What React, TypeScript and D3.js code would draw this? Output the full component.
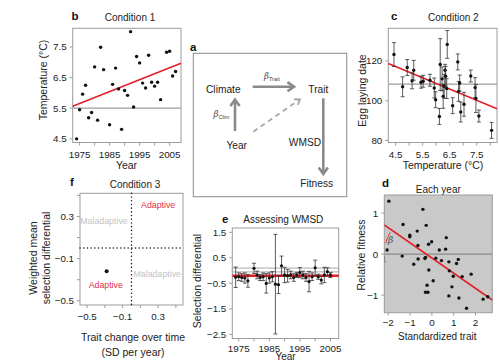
import * as d3 from "d3";

const FONT = "'Liberation Sans', Arial, Helvetica, sans-serif";
const RED = "#e3202a";
const GRID = "#9c9c9c";
const INK = "#222";
const MINUS = "\u2212";

// b: spring temperature per year
const tempYears = [1974, 1975, 1976, 1977, 1978, 1979, 1980, 1981, 1982, 1983, 1985, 1986, 1987, 1988, 1989, 1990,
  1991, 1992, 1993, 1994, 1995, 1996, 1997, 1998, 1999, 2000, 2001, 2002, 2004, 2005, 2006, 2007];
const tempValues = [4.5, 5.45, 5.96, 6.25, 5.19, 5.36, 6.85, 5.11, 7.49, 6.76, 4.96, 6.28, 6.81, 6.13, 4.81, 6.08,
  5.92, 8.0, 5.54, 7.19, 6.98, 6.32, 6.16, 7.23, 6.35, 6.22, 6.35, 5.78, 7.33, 7.36, 6.55, 6.7];
const tempSlope = 0.039;
const tempAt1990 = 6.235;
const tempReference = 5.5;
const tempTicks = [4.5, 5.5, 6.5, 7.5];
const yearTicks = [1975, 1980, 1985, 1990, 1995, 2000, 2005];
const yearLabels = [1975, 1985, 1995, 2005];

// c: egg laying date against temperature
const eggTemps = [4.44, 4.76, 4.93, 5.11, 5.17, 5.44, 5.52, 5.77, 5.93, 5.98, 6.12, 6.15, 6.22, 6.26, 6.3, 6.33,
  6.35, 6.39, 6.41, 6.61, 6.8, 6.83, 6.87, 6.91, 7.03, 7.28, 7.44, 7.47, 7.58, 8.05];
const eggDates = [123.2, 107, 116.7, 110, 115.3, 109.3, 109.8, 110.3, 106.4, 100.5, 92.1, 118.2, 111, 102.2, 107.3,
  115.3, 112.3, 106.1, 128.3, 97.5, 119.5, 104.7, 108.9, 94.3, 98.2, 112.4, 106.6, 101.1, 92.3, 85.1];
const eggErrors = [6, 5, 4, 4, 5, 3, 3, 3, 5, 4, 4, 13, 6, 6, 6, 3, 5, 5, 7, 4, 4, 5, 4, 5, 6, 3, 5, 7, 3, 4];
const eggMean = 108.3;
const eggSlope = -5.65;
const eggIntercept = 142.6;
const eggXTicks = [4.5, 5, 5.5, 6, 6.5, 7, 7.5, 8];
const eggXLabels = [4.5, 5.5, 6.5, 7.5];
const eggYTicks = [80, 100, 120];

// d: relative fitness against standardized trait, one year
const dTrait = [-1.97, -2.05, -1.32, -1.36, -1.01, -1.01, -0.67, -0.64, -0.83, -0.63, -0.41, -0.26, -0.29, -0.32,
  -0.15, -0.01, -0.14, -0.22, -0.29, -0.18, 0.06, 0.18, 0.34, 0.44, 0.63, 0.66, 0.78, 0.8, 0.92, 0.98, 0.78, 1.13,
  1.21, 1.24, 1.39, 1.59, 1.8, 2.35, 2.56];
const dFitness = [1.29, 0.1, 0.72, -0.05, 0.46, 0.42, 0.56, 0.21, -0.25, -0.12, 1.09, 0.7, -0.08, -0.11, 0.24, 0.3,
  -0.39, -0.76, -0.93, -0.93, -0.65, -0.1, 0.1, -0.16, 0.12, 0.4, -0.19, -0.41, -0.8, -0.54, -1.02, -0.23, -0.13,
  -1.07, -0.55, -1.32, -0.49, -1.1, -1.04];
const fitSlope = -0.37;
const fitIntercept = -0.096;
const dXTicks = [-2, -1, 0, 1, 2];
const dYTicks = [-1, 0, 1];

// e: selection differential per year
const eYears = [1974, 1975, 1976, 1977, 1978, 1980, 1981, 1982, 1983, 1984, 1985, 1986, 1987, 1988, 1989, 1990,
  1991, 1992, 1993, 1994, 1995, 1996, 1997, 1998, 1999, 2000, 2001, 2002, 2003, 2004, 2005];
const eValues = [-0.26, -0.24, -0.27, -0.29, -0.4, 0.09, -0.17, -0.27, -0.24, -0.5, -0.29, -0.24, -0.53, -0.55, 0.19,
  -0.17, -0.2, -0.17, -0.27, -0.17, -0.08, -0.17, -0.27, -0.43, -0.24, 0.11, -0.24, -0.37, -0.17, -0.04, -0.17];
const eErrors = [0.4, 0.15, 0.15, 0.2, 0.25, 0.2, 0.15, 0.12, 0.15, 0.38, 0.2, 0.2, 1.95, 0.35, 0.38, 0.3, 0.25,
  0.15, 0.15, 0.1, 0.2, 0.15, 0.15, 0.4, 0.15, 0.3, 0.1, 0.15, 0.3, 0.15, 0.1];
const eMean = -0.2;
const eBand = [-0.05, 0.1];
const eYTicks = [1.5, 0.5, -0.5, -1.5, -2.5];

// f: trait change vs weighted mean selection differential
const fTicks = [-0.5, -0.3, -0.1, 0.1, 0.3, 0.5];
const fXLabels = [-0.5, -0.1, 0.3];
const fYLabels = [0.3, -0.1, -0.5];
const fPoint = { change: -0.28, wmsd: -0.22 };
const fQuadrants = [
  { text: "Adaptive", change: 0.3, wmsd: 0.41, adaptive: true },
  { text: "Maladaptive", change: -0.31, wmsd: 0.26, adaptive: false },
  { text: "Maladaptive", change: 0.29, wmsd: -0.24, adaptive: false },
  { text: "Adaptive", change: -0.29, wmsd: -0.35, adaptive: true },
];

type Lin = d3.ScaleLinear<number, number>;

const num = (v: number, digits: number) => (v < 0 ? MINUS : "") + Math.abs(v).toFixed(digits);

function Axes(props: {
  x: Lin; y: Lin; xTicks: number[]; xLabels: number[]; yTicks: number[]; yLabels: number[];
  fx: (v: number) => string; fy: (v: number) => string; fill?: string; labelGap?: number;
}) {
  const { x, y, xTicks, xLabels, yTicks, yLabels, fx, fy, fill } = props;
  const gap = props.labelGap ?? 15;
  const [l, r] = x.range();
  const [b, t] = y.range();
  return (
    <g>
      <rect x={l} y={t} width={r - l} height={b - t} fill={fill ?? "none"} stroke={GRID} strokeWidth={1} />
      {xTicks.map((v) => (
        <line key={"xt" + v} x1={x(v)} x2={x(v)} y1={b} y2={b + 3} stroke={GRID} />
      ))}
      {xLabels.map((v) => (
        <text key={"xl" + v} x={x(v)} y={b + gap} textAnchor="middle" fontSize={9.8} fill={INK}>
          {fx(v)}
        </text>
      ))}
      {yTicks.map((v) => (
        <line key={"yt" + v} x1={l - 3} x2={l} y1={y(v)} y2={y(v)} stroke={GRID} />
      ))}
      {yLabels.map((v) => (
        <text key={"yl" + v} x={l - 6} y={y(v) + 3.5} textAnchor="end" fontSize={9.8} fill={INK}>
          {fy(v)}
        </text>
      ))}
    </g>
  );
}

function Heading({ letter, lx, ly, title, tx, ty }: { letter: string; lx: number; ly: number; title: string; tx: number; ty: number }) {
  return (
    <g>
      <text x={lx} y={ly} fontSize={11.5} fontWeight="bold" fill="#111">{letter}</text>
      <text x={tx} y={ty} fontSize={10} textAnchor="middle" fill={INK}>{title}</text>
    </g>
  );
}

function VLabel({ x, y, children }: { x: number; y: number; children: string }) {
  return (
    <text transform={`translate(${x},${y}) rotate(-90)`} textAnchor="middle" dominantBaseline="central" fontSize={10.5} fill={INK}>
      {children}
    </text>
  );
}

function ErrorBar({ x, y0, y1 }: { x: number; y0: number; y1: number }) {
  return (
    <g stroke="#333" strokeWidth={0.8}>
      <line x1={x} x2={x} y1={y0} y2={y1} />
      <line x1={x - 2} x2={x + 2} y1={y0} y2={y0} />
      <line x1={x - 2} x2={x + 2} y1={y1} y2={y1} />
    </g>
  );
}

function Arrow({ x1, y1, x2, y2, dashed }: { x1: number; y1: number; x2: number; y2: number; dashed?: boolean }) {
  const a = Math.atan2(y2 - y1, x2 - x1);
  const len = dashed ? 6 : 8;
  const w = (35 * Math.PI) / 180;
  const p1 = [x2 - len * Math.cos(a - w), y2 - len * Math.sin(a - w)];
  const p2 = [x2 - len * Math.cos(a + w), y2 - len * Math.sin(a + w)];
  const col = dashed ? "#a8a8a8" : "#8a8a8a";
  return (
    <g stroke={col} strokeWidth={dashed ? 1.8 : 2.6} fill="none" strokeLinecap="butt">
      <line x1={x1} y1={y1} x2={x2 - 1.2 * Math.cos(a)} y2={y2 - 1.2 * Math.sin(a)} strokeDasharray={dashed ? "5 4" : undefined} />
      <polyline points={`${p1[0]},${p1[1]} ${x2},${y2} ${p2[0]},${p2[1]}`} strokeLinejoin="miter" />
    </g>
  );
}

function Beta({ x, y, sub }: { x: number; y: number; sub: string }) {
  return (
    <text x={x} y={y} fill="#444" fontSize={8.5}>
      <tspan fontStyle="italic" fontFamily="'DejaVu Serif', serif">β</tspan>
      <tspan fontSize={5.5} dy={1.5}>{sub}</tspan>
    </text>
  );
}

export default function App() {
  // b
  const xB = d3.scaleLinear().domain([1972.7, 2008.8]).range([72.7, 181]);
  const yB = d3.scaleLinear().domain([4.38, 8.11]).range([142.5, 28.3]);
  const trendB = (yr: number) => tempAt1990 + tempSlope * (yr - 1990);
  const [b0, b1] = xB.domain();

  // c
  const xC = d3.scaleLinear().domain([4.23, 8.25]).range([388.3, 497]);
  const yC = d3.scaleLinear().domain([79, 136.4]).range([142.5, 28.3]);
  const [c0, c1] = xC.domain();
  const fitC = (t: number) => eggIntercept + eggSlope * t;

  // d
  const xD = d3.scaleLinear().domain([-2.18, 2.77]).range([384.3, 492.3]);
  const yD = d3.scaleLinear().domain([-1.43, 1.44]).range([312.7, 195]);
  const [d0, d1] = xD.domain();
  const fitD = (t: number) => fitIntercept + fitSlope * t;
  const cx = xD(-fitIntercept / fitSlope);
  const cy = yD(0);
  const ang = Math.atan(-(yD(fitD(d0)) - cy) / (cx - xD(d0)));
  const r = 42;
  const pt = (phi: number) => [cx - r * Math.cos(phi), cy - r * Math.sin(phi)];
  const arcPath = (p0: number, p1: number) => {
    const [ax, ay] = pt(p0);
    const [bx, by] = pt(p1);
    return `M${ax},${ay}A${r},${r} 0 0 0 ${bx},${by}`;
  };
  const deg = Math.PI / 180;

  // e
  const xE = d3.scaleLinear().domain([1972.9, 2007.7]).range([232.3, 338.7]);
  const yE = d3.scaleLinear().domain([-2.66, 1.67]).range([338.5, 228]);
  const [e0, e1] = xE.domain();

  // f
  const xF = d3.scaleLinear().domain([-0.58, 0.58]).range([80, 183]);
  const yF = d3.scaleLinear().domain([-0.54, 0.52]).range([305, 193.3]);

  return (
    <svg width={500} height={363} viewBox="0 0 500 363" style={{ position: "absolute", left: 0, top: 0, background: "#fff" }} fontFamily={FONT}>
      <defs>
        <clipPath id="clipD">
          <rect x={384.3} y={195} width={108} height={117.7} />
        </clipPath>
      </defs>

      {/* b */}
      <Heading letter="b" lx={71.5} ly={20} title="Condition 1" tx={130} ty={21} />
      <Axes x={xB} y={yB} xTicks={yearTicks} xLabels={yearLabels} yTicks={tempTicks} yLabels={tempTicks}
        fx={(v) => String(v)} fy={(v) => num(v, 1)} />
      <line x1={xB(b0)} x2={xB(b1)} y1={yB(tempReference)} y2={yB(tempReference)} stroke={GRID} strokeWidth={1.2} />
      <line x1={xB(b0)} x2={xB(b1)} y1={yB(trendB(b0))} y2={yB(trendB(b1))} stroke={RED} strokeWidth={1.6} />
      {tempYears.map((yr, i) => (
        <circle key={yr} cx={xB(yr)} cy={yB(tempValues[i])} r={1.7} fill="#111" />
      ))}
      <VLabel x={43} y={80}>Temperature (°C)</VLabel>
      <text x={126.5} y={169} textAnchor="middle" fontSize={10.5} fill={INK}>Year</text>

      {/* a */}
      <text x={190} y={51} fontSize={11.5} fontWeight="bold" fill="#111">a</text>
      <rect x={193.3} y={53.3} width={153.4} height={143.4} fill="none" stroke="#8a8a8a" strokeWidth={1} />
      <g fontSize={10.2} fill={INK} textAnchor="middle">
        <text x={223.3} y={93}>Climate</text>
        <text x={318.3} y={92.5}>Trait</text>
        <text x={236.7} y={148.8}>Year</text>
        <text x={305} y={145.5}>WMSD</text>
        <text x={316.7} y={187}>Fitness</text>
      </g>
      <Arrow x1={252.7} y1={86.7} x2={294} y2={86.7} />
      <Arrow x1={235} y1={131} x2={235} y2={99.5} />
      <Arrow x1={253.3} y1={131.7} x2={300} y2={99.3} dashed />
      <Arrow x1={323.3} y1={98.3} x2={323.3} y2={174} />
      <Beta x={264} y={79} sub="Trait" />
      <Beta x={213.5} y={117} sub="Clim" />

      {/* c */}
      <Heading letter="c" lx={391} ly={20} title="Condition 2" tx={453.3} ty={21} />
      <Axes x={xC} y={yC} xTicks={eggXTicks} xLabels={eggXLabels} yTicks={eggYTicks} yLabels={eggYTicks}
        fx={(v) => num(v, 1)} fy={(v) => String(v)} />
      <line x1={xC(c0)} x2={xC(c1)} y1={yC(eggMean)} y2={yC(eggMean)} stroke={GRID} strokeWidth={1.2} />
      <line x1={xC(c0)} x2={xC(c1)} y1={yC(fitC(c0))} y2={yC(fitC(c1))} stroke={RED} strokeWidth={1.6} />
      {eggTemps.map((t, i) => (
        <g key={i}>
          <ErrorBar x={xC(t)} y0={yC(eggDates[i] - eggErrors[i])} y1={yC(eggDates[i] + eggErrors[i])} />
          <circle cx={xC(t)} cy={yC(eggDates[i])} r={1.7} fill="#111" />
        </g>
      ))}
      <VLabel x={361.7} y={90.5}>Egg laying date</VLabel>
      <text x={443} y={169} textAnchor="middle" fontSize={10.5} fill={INK}>Temperature (°C)</text>

      {/* d */}
      <Heading letter="d" lx={382} ly={187} title="Each year" tx={438.3} ty={193} />
      <Axes x={xD} y={yD} xTicks={dXTicks} xLabels={dXTicks} yTicks={dYTicks} yLabels={dYTicks}
        fx={(v) => num(v, 0)} fy={(v) => num(v, 0)} fill="#c9c9c9" labelGap={13} />
      <g clipPath="url(#clipD)">
        <line x1={xD(d0)} x2={xD(d1)} y1={yD(0)} y2={yD(0)} stroke="#8a8a8a" strokeWidth={1.2} />
        <line x1={xD(d0)} x2={xD(d1)} y1={yD(fitD(d0))} y2={yD(fitD(d1))} stroke={RED} strokeWidth={1.6} />
        <path d={arcPath(ang - 4 * deg, 15 * deg)} fill="none" stroke={RED} strokeWidth={0.9} />
        <path d={arcPath(-3 * deg, -12 * deg)} fill="none" stroke="#666" strokeWidth={0.9} />
        {dTrait.map((t, i) => (
          <circle key={i} cx={xD(t)} cy={yD(dFitness[i])} r={1.7} fill="#111" />
        ))}
      </g>
      <text x={388} y={243} fontSize={9} fontStyle="italic" fontFamily="'DejaVu Serif', serif" fill="#444">β</text>
      <VLabel x={360.7} y={255}>Relative fitness</VLabel>
      <text x={437.3} y={339.5} textAnchor="middle" fontSize={10} fill={INK}>Standardized trait</text>

      {/* e */}
      <Heading letter="e" lx={222} ly={223} title="Assessing WMSD" tx={283.3} ty={223} />
      <Axes x={xE} y={yE} xTicks={yearTicks} xLabels={yearLabels} yTicks={eYTicks} yLabels={eYTicks}
        fx={(v) => String(v)} fy={(v) => num(v, 1)} labelGap={13} />
      <rect x={xE(e0)} width={xE(e1) - xE(e0)} y={yE(eBand[1])} height={yE(eBand[0]) - yE(eBand[1])}
        fill="none" stroke="#a8a8a8" strokeWidth={1} />
      <line x1={xE(e0)} x2={xE(e1)} y1={yE(eMean)} y2={yE(eMean)} stroke={RED} strokeWidth={2.4} />
      {eYears.map((yr, i) => (
        <g key={yr}>
          <ErrorBar x={xE(yr)} y0={yE(eValues[i] - eErrors[i])} y1={yE(eValues[i] + eErrors[i])} />
          <circle cx={xE(yr)} cy={yE(eValues[i])} r={1.6} fill="#111" />
        </g>
      ))}
      <VLabel x={196.7} y={281}>Selection differential</VLabel>
      <text x={285.5} y={360} textAnchor="middle" fontSize={10} fill={INK}>Year</text>

      {/* f */}
      <Heading letter="f" lx={70} ly={186} title="Condition 3" tx={135} ty={187.5} />
      <Axes x={xF} y={yF} xTicks={fTicks} xLabels={fXLabels} yTicks={fTicks} yLabels={fYLabels}
        fx={(v) => num(v, 1)} fy={(v) => num(v, 1)} />
      <g stroke="#222" strokeWidth={1.5} strokeDasharray="0.1 3.6" strokeLinecap="round">
        <line x1={xF(0)} x2={xF(0)} y1={yF(0.52)} y2={yF(-0.54)} />
        <line x1={xF(-0.58)} x2={xF(0.58)} y1={yF(0)} y2={yF(0)} />
      </g>
      {fQuadrants.map((q, i) => (
        <text key={i} x={xF(q.change)} y={yF(q.wmsd) + 3.2} textAnchor="middle" fontSize={8.8}
          fill={q.adaptive ? "#e0304a" : "#c4c4c4"}>{q.text}</text>
      ))}
      <circle cx={xF(fPoint.change)} cy={yF(fPoint.wmsd)} r={2} fill="#111" />
      <text transform="translate(33.3,258) rotate(-90)" textAnchor="middle" dominantBaseline="central" fontSize={10.5} fill={INK}>Weighted mean</text>
      <text transform="translate(45.5,258) rotate(-90)" textAnchor="middle" dominantBaseline="central" fontSize={10.5} fill={INK}>selection differential</text>
      <text x={133} y={340.5} textAnchor="middle" fontSize={10.5} fill={INK}>Trait change over time</text>
      <text x={133} y={355.5} textAnchor="middle" fontSize={10.5} fill={INK}>(SD per year)</text>
    </svg>
  );
}
